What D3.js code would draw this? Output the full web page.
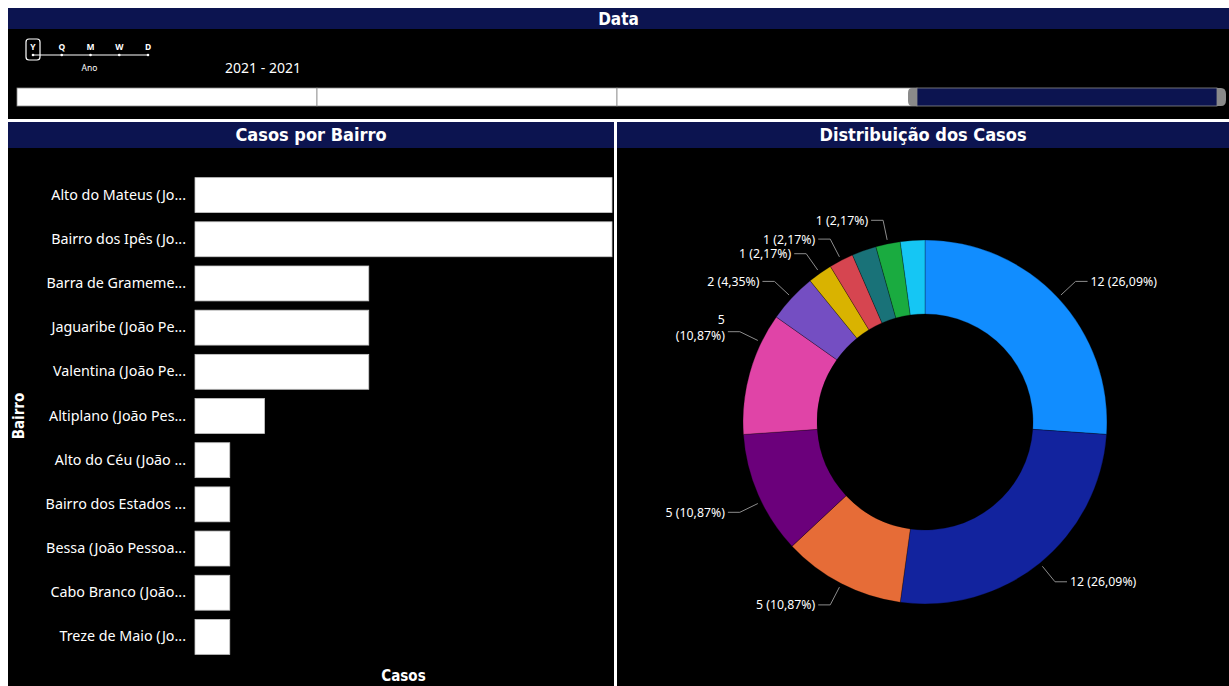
<!DOCTYPE html>
<html>
<head>
<meta charset="utf-8">
<script src="https://cdn.jsdelivr.net/npm/d3@7"></script>
<style>
  html, body { margin: 0; padding: 0; background: #fff; }
  svg { display: block; }
  .title { font-family: "DejaVu Sans Condensed", "DejaVu Sans", sans-serif; font-weight: bold; fill: #fff; }
  .lbl { font-family: "Noto Sans", "Open Sans", sans-serif; fill: #fff; }
</style>
</head>
<body>
<svg id="chart"></svg>
<script>
// ---- data ----
const years = ["2018", "2019", "2020", "2021"];
const selectedYear = "2021";
const granularities = ["Y", "Q", "M", "W", "D"];
const selectedGranularity = "Y";
const rangeText = "2021 - 2021";

const bairros = [
  "Alto do Mateus (Jo...",
  "Bairro dos Ipês (Jo...",
  "Barra de Grameme...",
  "Jaguaribe (João Pe...",
  "Valentina (João Pe...",
  "Altiplano (João Pes...",
  "Alto do Céu (João ...",
  "Bairro dos Estados ...",
  "Bessa (João Pessoa...",
  "Cabo Branco (João...",
  "Treze de Maio (Jo..."
];
const casos = [12, 12, 5, 5, 5, 2, 1, 1, 1, 1, 1];
const sliceColors = ["#118DFF", "#12239E", "#E66C37", "#6B007B", "#E044A7", "#744EC2",
                     "#D9B300", "#D64550", "#197278", "#1AAB40", "#15C6F4"];

const W = 1229, H = 686;
const navy = "#0c1450";

const svg = d3.select("#chart").attr("width", W).attr("height", H);
svg.append("rect").attr("width", W).attr("height", H).attr("fill", "#fff");

// ---- panels ----
const panels = [
  {x: 8, y: 8, w: 1221, h: 111, head: 21, title: "Data", size: 17},
  {x: 8, y: 122, w: 606, h: 564, head: 26, title: "Casos por Bairro", size: 18},
  {x: 617, y: 122, w: 612, h: 564, head: 26, title: "Distribuição dos Casos", size: 18}
];
panels.forEach(p => {
  svg.append("rect").attr("x", p.x).attr("y", p.y).attr("width", p.w).attr("height", p.h).attr("fill", "#000");
  svg.append("rect").attr("x", p.x).attr("y", p.y).attr("width", p.w).attr("height", p.head).attr("fill", navy);
  svg.append("text").attr("class", "title")
    .attr("x", p.x + p.w / 2).attr("y", p.y + p.head / 2)
    .attr("dy", "0.36em").attr("text-anchor", "middle")
    .attr("font-size", p.size).text(p.title);
});

// ---- slicer: granularity ----
const gx = d3.scalePoint().domain(granularities).range([33, 148]);
const slicer = svg.append("g");
slicer.append("line").attr("x1", gx.range()[0]).attr("x2", gx.range()[1])
  .attr("y1", 55).attr("y2", 55).attr("stroke", "#fff").attr("stroke-width", 1);
slicer.selectAll(".gdot").data(granularities).enter().append("circle")
  .attr("cx", d => gx(d)).attr("cy", 55).attr("r", 1.3).attr("fill", "#fff");
slicer.selectAll(".gtxt").data(granularities).enter().append("text")
  .attr("class", "lbl").attr("x", d => gx(d)).attr("y", 50)
  .attr("text-anchor", "middle").attr("font-size", 8.5).attr("font-weight", "bold").text(d => d);
slicer.append("rect").attr("x", gx(selectedGranularity) - 7).attr("y", 39)
  .attr("width", 14).attr("height", 21).attr("rx", 3)
  .attr("fill", "none").attr("stroke", "#fff").attr("stroke-width", 1.2);
slicer.append("text").attr("class", "lbl").attr("x", (gx.range()[0] + gx.range()[1]) / 2 - 1).attr("y", 71)
  .attr("text-anchor", "middle").attr("font-size", 8.5).text("Ano");
slicer.append("text").attr("class", "lbl").attr("x", 263).attr("y", 73)
  .attr("text-anchor", "middle").attr("font-size", 14).text(rangeText);

// ---- slicer: timeline ----
const tx = d3.scaleBand().domain(years).range([17, 1217]);
const tY = 88, tH = 18;
slicer.selectAll(".cell").data(years).enter().append("rect")
  .attr("x", d => tx(d)).attr("y", tY).attr("width", tx.bandwidth()).attr("height", tH)
  .attr("fill", d => d === selectedYear ? navy : "#fff")
  .attr("stroke", "#8a8a8a").attr("stroke-width", 0.8);
const sx0 = tx(selectedYear), sx1 = sx0 + tx.bandwidth(), hw = 9;
slicer.append("path")
  .attr("d", `M${sx0},${tY} L${sx0 - hw + 4},${tY} Q${sx0 - hw},${tY} ${sx0 - hw},${tY + 5} L${sx0 - hw},${tY + tH - 5} Q${sx0 - hw},${tY + tH} ${sx0 - hw + 4},${tY + tH} L${sx0},${tY + tH} Z`)
  .attr("fill", "#8a8a8a");
slicer.append("path")
  .attr("d", `M${sx1},${tY} L${sx1 + hw - 5},${tY} Q${sx1 + hw},${tY} ${sx1 + hw},${tY + 6} L${sx1 + hw},${tY + tH - 6} Q${sx1 + hw},${tY + tH} ${sx1 + hw - 5},${tY + tH} L${sx1},${tY + tH} Z`)
  .attr("fill", "#8a8a8a");

// ---- bar chart ----
const x = d3.scaleLinear().domain([0, d3.max(casos)]).range([195, 612]);
const y = d3.scaleBand().domain(bairros).range([173, 659]).paddingInner(0.21).paddingOuter(0.105);

const barG = svg.append("g");
barG.selectAll("rect").data(bairros).enter().append("rect")
  .attr("x", x(0)).attr("y", d => y(d))
  .attr("width", (d, i) => x(casos[i]) - x(0)).attr("height", y.bandwidth())
  .attr("fill", "#fff").attr("stroke", "#c8c8c8").attr("stroke-width", 0.8);

const yAxis = svg.append("g").attr("transform", `translate(${x(0)},0)`)
  .call(d3.axisLeft(y).tickSize(0).tickPadding(9));
yAxis.select(".domain").remove();
yAxis.selectAll("text").attr("class", "lbl").attr("fill", "#fff")
  .attr("font-size", 14.3);

svg.append("text").attr("class", "title").attr("font-size", 15)
  .attr("transform", `translate(19,${(y.range()[0] + y.range()[1]) / 2}) rotate(-90)`)
  .attr("text-anchor", "middle").attr("dy", "0.36em").text("Bairro");
svg.append("text").attr("class", "title").attr("font-size", 15)
  .attr("x", (x.range()[0] + x.range()[1]) / 2).attr("y", 681)
  .attr("text-anchor", "middle").text("Casos");

// ---- donut ----
const cx = 925, cy = 422, rOut = 182, rIn = 108;
const ptBR = d3.formatLocale({decimal: ",", thousands: ".", grouping: [3], currency: ["R$", ""]});
const pct = ptBR.format(".2%");
const total = d3.sum(casos);

const slices = bairros.map((b, i) => ({name: b, v: casos[i], color: sliceColors[i]}));
const pie = d3.pie().sort(null).value(d => d.v);
const arcs = pie(slices);
const arc = d3.arc().innerRadius(rIn).outerRadius(rOut);

const donut = svg.append("g").attr("transform", `translate(${cx},${cy})`);
donut.selectAll("path").data(arcs).enter().append("path")
  .attr("d", arc).attr("fill", d => d.data.color)
  .attr("stroke", "#000").attr("stroke-opacity", 0.35).attr("stroke-width", 0.8);

// labels with leader lines, hidden when they collide
const polar = (r, a) => [r * Math.sin(a), -r * Math.cos(a)];
const minOff = 26 * Math.PI / 180;
const placed = [];
arcs.forEach(d => {
  let mid = (d.startAngle + d.endAngle) / 2;
  let clamped = false;
  [Math.PI / 2, 3 * Math.PI / 2].forEach(h => {
    if (Math.abs(mid - h) < minOff) {
      mid = h + (mid >= h ? 1 : -1) * minOff;
      clamped = true;
    }
  });
  const side = Math.sin(mid) >= 0 ? 1 : -1;
  const p0 = polar(rOut + 4, mid), p1 = polar(rOut + 24, mid);
  const p2 = [p1[0] + side * 12, p1[1]];
  const wrap = clamped && Math.cos(mid) > 0;
  const hgt = wrap ? 30 : 15;
  const hit = placed.some(q => q.side === side && Math.abs(q.y - p1[1]) < (q.h + hgt) / 2 - 1);
  if (hit) return;
  placed.push({side, y: p1[1], h: hgt});

  donut.append("polyline")
    .attr("points", [p0, p1, p2].map(p => p.join(",")).join(" "))
    .attr("fill", "none").attr("stroke", "#8c8c8c").attr("stroke-width", 1);
  const t = donut.append("text").attr("class", "lbl").attr("font-size", 12.3).attr("fill", "#e8e8e8")
    .attr("text-anchor", side > 0 ? "start" : "end");
  const label = `${d.data.v} (${pct(d.data.v / total)})`;
  if (wrap) {
    const parts = label.split(" ");
    t.attr("x", p2[0] + side * 3).attr("y", p2[1] - 8);
    parts.forEach((s, k) => t.append("tspan").attr("x", p2[0] + side * 3)
      .attr("dy", k === 0 ? "0" : "1.3em").text(s));
  } else {
    t.attr("x", p2[0] + side * 3).attr("y", p2[1]).attr("dy", "0.36em").text(label);
  }
});
</script>
</body>
</html>
